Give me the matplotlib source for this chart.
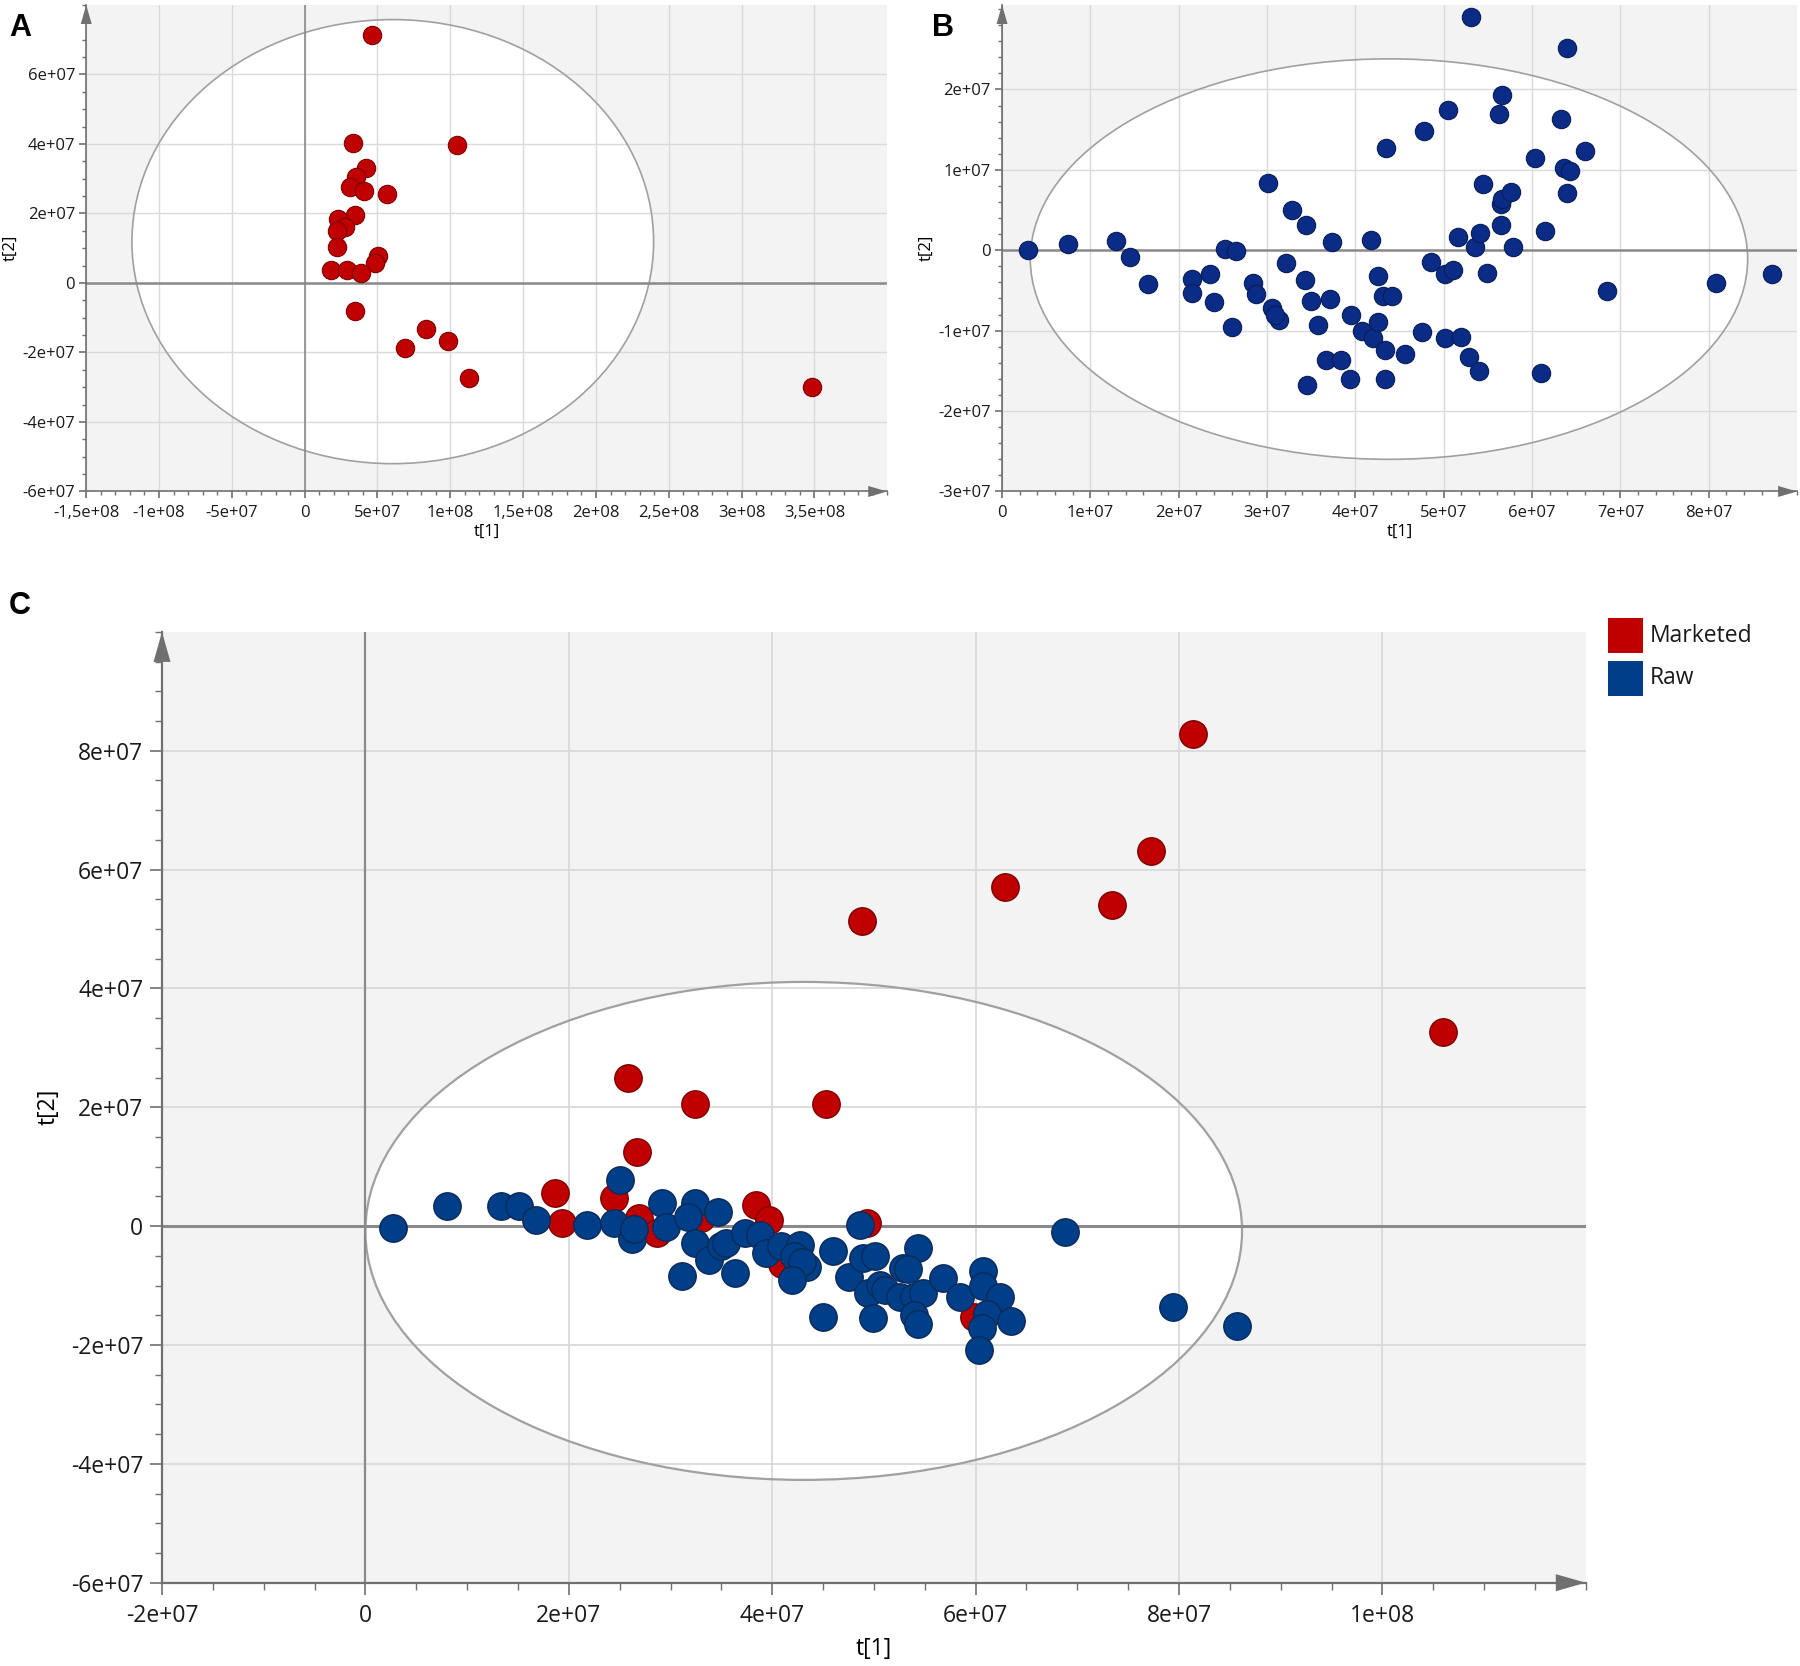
import matplotlib
matplotlib.use("Agg")
import matplotlib.pyplot as plt
import numpy as np
from matplotlib.patches import Ellipse, Polygon, Rectangle
from matplotlib.ticker import FixedLocator, FixedFormatter, MultipleLocator
import matplotlib.transforms as mtrans

plt.rcParams['font.family'] = ['Open Sans', 'DejaVu Sans']

E7 = 1e7

# panel A - marketed samples (units of 1e7)
a_x = [4.61, 3.35, 10.44, 4.22, 3.55, 3.11, 4.06, 5.67, 3.47, 2.29, 2.80, 2.25,
       2.25, 5.04, 4.81, 1.81, 2.92, 3.86, 3.47, 8.31, 6.86, 9.81, 11.31, 34.83]
a_y = [7.13, 4.02, 3.98, 3.31, 3.06, 2.77, 2.64, 2.55, 1.97, 1.85, 1.61, 1.49,
       1.04, 0.77, 0.58, 0.38, 0.38, 0.28, -0.80, -1.33, -1.87, -1.66, -2.74, -2.99]

# panel B - raw samples (units of 1e7)
b_x = [0.29, 0.75, 1.29, 1.45, 1.65, 2.15, 2.15, 2.35, 2.40, 2.52, 2.65, 2.60,
       2.84, 2.87, 3.01, 3.06, 3.13, 3.09, 3.21, 3.28, 3.44, 3.43, 3.50, 3.45,
       3.58, 3.71, 3.73, 3.67, 3.84, 3.94, 3.95, 4.07, 4.18, 4.20, 4.25, 4.26,
       4.31, 4.41, 4.33, 4.35, 4.33, 4.56, 4.75, 4.78, 4.85, 5.01, 5.11, 5.01,
       5.05, 5.16, 5.19, 5.29, 5.31, 5.35, 5.41, 5.44, 5.40, 5.49, 5.63, 5.66,
       5.65, 5.66, 5.65, 5.76, 5.78, 6.03, 6.10, 6.15, 6.33, 6.36, 6.43, 6.39,
       6.39, 6.60, 6.85, 8.08, 8.71]
b_y = [0.00, 0.08, 0.12, -0.09, -0.42, -0.36, -0.53, -0.30, -0.64, 0.02, -0.01, -0.95,
       -0.41, -0.55, 0.84, -0.72, -0.87, -0.80, -0.16, 0.50, 0.32, -0.37, -0.63, -1.68,
       -0.93, -0.61, 0.10, -1.36, -1.36, -1.60, -0.80, -1.00, 0.13, -1.09, -0.89, -0.32,
       -0.57, -0.57, -1.24, 1.27, -1.60, -1.29, -1.02, 1.48, -0.15, -0.29, -0.24, -1.09,
       1.74, 0.16, -1.08, -1.33, 2.90, 0.04, 0.22, 0.82, -1.50, -0.28, 1.70, 1.93,
       0.58, 0.64, 0.31, 0.73, 0.04, 1.15, -1.53, 0.24, 1.63, 1.02, 0.98, 0.71,
       2.52, 1.24, -0.51, -0.41, -0.30]

# panel C - combined model (units of 1e7)
groups = ['Marketed', 'Raw']
c_mkt_x = [8.14, 7.72, 6.29, 7.34, 4.88, 10.60, 2.58, 3.24, 4.53, 2.67, 1.86, 2.44,
           1.93, 3.84, 3.97, 2.69, 2.87, 4.93, 4.10, 5.98, 3.30]
c_mkt_y = [8.29, 6.31, 5.71, 5.40, 5.13, 3.26, 2.50, 2.06, 2.06, 1.24, 0.56, 0.47,
           0.06, 0.35, 0.10, 0.14, -0.12, 0.05, -0.64, -1.53, 0.14]
c_raw_x = [0.27, 0.80, 1.33, 1.51, 1.68, 2.18, 2.50, 2.44, 2.62, 2.64, 2.92, 2.96,
           3.11, 3.24, 3.17, 3.24, 3.38, 3.47, 3.50, 3.55, 3.63, 3.73, 3.88, 3.94,
           4.09, 4.27, 4.21, 4.34, 4.29, 4.19, 4.50, 4.60, 4.76, 4.86, 4.89, 5.01,
           4.94, 5.06, 5.11, 4.99, 5.43, 5.29, 5.34, 5.26, 5.39, 5.48, 5.39, 5.43,
           5.68, 5.85, 6.07, 6.07, 6.24, 6.11, 6.35, 6.06, 6.03, 6.88, 7.94, 8.57]
c_raw_y = [-0.03, 0.34, 0.34, 0.34, 0.10, 0.02, 0.78, 0.06, -0.22, -0.05, 0.39, -0.02,
           -0.84, 0.39, 0.16, -0.29, -0.57, 0.23, -0.34, -0.29, -0.79, -0.12, -0.15, -0.45,
           -0.34, -0.31, -0.51, -0.68, -0.60, -0.91, -1.53, -0.41, -0.85, 0.02, -0.54, -0.51,
           -1.13, -0.99, -1.07, -1.55, -0.36, -0.71, -0.72, -1.19, -1.19, -1.13, -1.50, -1.64,
           -0.88, -1.20, -0.75, -1.01, -1.20, -1.47, -1.59, -1.72, -2.08, -0.09, -1.36, -1.68]

# Hotelling ellipses: (cx, cy, half width, half height), units of 1e7
ell_a = (6.05, 1.19, 17.91, 6.39)
ell_b = (4.38, -0.11, 4.06, 2.49)
ell_c = (4.31, -0.08, 4.31, 4.19)

# tick labels
a_xticks = [-15, -10, -5, 0, 5, 10, 15, 20, 25, 30, 35]
a_xlabels = ['-1,5e+08', '-1e+08', '-5e+07', '0', '5e+07', '1e+08', '1,5e+08',
             '2e+08', '2,5e+08', '3e+08', '3,5e+08']
a_yticks = [-6, -4, -2, 0, 2, 4, 6]
a_ylabels = ['-6e+07', '-4e+07', '-2e+07', '0', '2e+07', '4e+07', '6e+07']
b_xticks = [0, 1, 2, 3, 4, 5, 6, 7, 8]
b_xlabels = ['0', '1e+07', '2e+07', '3e+07', '4e+07', '5e+07', '6e+07', '7e+07', '8e+07']
b_yticks = [-3, -2, -1, 0, 1, 2]
b_ylabels = ['-3e+07', '-2e+07', '-1e+07', '0', '1e+07', '2e+07']
c_xticks = [-2, 0, 2, 4, 6, 8, 10]
c_xlabels = ['-2e+07', '0', '2e+07', '4e+07', '6e+07', '8e+07', '1e+08']
c_yticks = [-6, -4, -2, 0, 2, 4, 6, 8]
c_ylabels = ['-6e+07', '-4e+07', '-2e+07', '0', '2e+07', '4e+07', '6e+07', '8e+07']

RED = '#c00000'
RED_EDGE = '#7d0000'
NAVY = '#0b2c86'
NAVY_EDGE = '#081d55'
BLUE = '#003f87'
BLUE_EDGE = '#0b2a58'
SPINE = '#707070'

fig = plt.figure(figsize=(18, 16.66), dpi=100)


def style_axes(ax, xlim, ylim, xt, xl, yt, yl, xminor, yminor, fs, big, ell):
    ax.set_facecolor('#f3f3f3')
    ax.set_xlim(xlim)
    ax.set_ylim(ylim)
    ax.xaxis.set_major_locator(FixedLocator(xt))
    ax.xaxis.set_major_formatter(FixedFormatter(xl))
    ax.yaxis.set_major_locator(FixedLocator(yt))
    ax.yaxis.set_major_formatter(FixedFormatter(yl))
    ax.xaxis.set_minor_locator(MultipleLocator(xminor))
    ax.yaxis.set_minor_locator(MultipleLocator(yminor))
    ax.set_axisbelow(True)
    ax.grid(True, which='major', color='#dadada', linewidth=1.3 if big else 1.0)
    for s in ['top', 'right']:
        ax.spines[s].set_visible(False)
    for s in ['left', 'bottom']:
        ax.spines[s].set_color(SPINE)
        ax.spines[s].set_linewidth(1.6 if big else 1.2)
    maj = 8.5 if big else 5
    mnr = 5 if big else 3
    ax.tick_params(which='major', length=maj, width=1.2, color=SPINE,
                   labelsize=fs, labelcolor='#1a1a1a', pad=5 if big else 3)
    ax.tick_params(axis='x', which='major', pad=7 if big else 5)
    ax.tick_params(which='minor', length=mnr, width=1.0, color=SPINE)
    # ellipse: white fill under grid, grey outline above
    cx, cy, hw, hh = ell
    ax.add_patch(Ellipse((cx, cy), 2 * hw, 2 * hh, facecolor='white',
                         edgecolor='none', zorder=0.2))
    ax.add_patch(Ellipse((cx, cy), 2 * hw, 2 * hh, facecolor='none',
                         edgecolor='#a0a0a0', linewidth=1.6 if big else 1.2, zorder=1.5))
    ax.axhline(0, color='#8a8a8a', linewidth=2.2 if big else 1.8, zorder=1.6)
    ax.axvline(0, color='#8a8a8a', linewidth=1.6 if big else 1.2, zorder=1.6)
    # arrow heads at the ends of the axes
    w = 0.085 if big else 0.055
    h = 0.30 if big else 0.19
    tup = fig.dpi_scale_trans + mtrans.ScaledTranslation(0, 1, ax.transAxes)
    ax.add_patch(Polygon([(-w, -h), (w, -h), (0, 0)], closed=True, transform=tup,
                         facecolor=SPINE, edgecolor='none', clip_on=False, zorder=5))
    trt = fig.dpi_scale_trans + mtrans.ScaledTranslation(1, 0, ax.transAxes)
    ax.add_patch(Polygon([(-h, -w), (-h, w), (0, 0)], closed=True, transform=trt,
                         facecolor=SPINE, edgecolor='none', clip_on=False, zorder=5))


# ---- panel A
axA = fig.add_axes([0.0479, 0.7050, 0.4450, 0.2920])
style_axes(axA, (-15, 40), (-6, 8), a_xticks, a_xlabels, a_yticks, a_ylabels,
           1, 0.5, 12, False, ell_a)
axA.scatter(a_x, a_y, s=175, color=RED, edgecolors=RED_EDGE, linewidths=0.8, zorder=3)
axA.set_xlabel('t[1]', fontsize=12, labelpad=2)
axA.set_ylabel('t[2]', fontsize=12, labelpad=3)

# ---- panel B
axB = fig.add_axes([0.5567, 0.7050, 0.4417, 0.2920])
style_axes(axB, (0, 9), (-3, 3.05), b_xticks, b_xlabels, b_yticks, b_ylabels,
           0.2, 0.2, 12, False, ell_b)
axB.scatter(b_x, b_y, s=175, color=NAVY, edgecolors=NAVY_EDGE, linewidths=0.8, zorder=3)
axB.set_xlabel('t[1]', fontsize=12, labelpad=2)
axB.set_ylabel('t[2]', fontsize=12, labelpad=3)

# ---- panel C
axC = fig.add_axes([0.0900, 0.0500, 0.7910, 0.5707])
style_axes(axC, (-2, 12), (-6, 10), c_xticks, c_xlabels, c_yticks, c_ylabels,
           0.5, 0.5, 16.5, True, ell_c)
axC.scatter(c_mkt_x, c_mkt_y, s=390, color=RED, edgecolors=RED_EDGE, linewidths=1.0,
            zorder=3, label=groups[0])
axC.scatter(c_raw_x, c_raw_y, s=390, color=BLUE, edgecolors=BLUE_EDGE, linewidths=1.0,
            zorder=4, label=groups[1])
axC.set_xlabel('t[1]', fontsize=16.5, labelpad=6)
axC.set_ylabel('t[2]', fontsize=16.5, labelpad=7)

# legend drawn by hand at the top right
for i, (name, col) in enumerate(zip(groups, [RED, BLUE])):
    y0 = 0.608 - i * 0.0255
    fig.patches.append(Rectangle((0.8935, y0), 0.0192, 0.0208, transform=fig.transFigure,
                                 facecolor=col, edgecolor='none'))
    fig.text(0.9165, y0 + 0.0104, name, fontsize=16.5, va='center', ha='left',
             color='#1a1a1a')

# panel letters
for lab, x, y in [('A', 0.005, 0.992), ('B', 0.518, 0.992), ('C', 0.005, 0.645)]:
    fig.text(x, y, lab, fontsize=22, fontweight='bold', family='Liberation Sans',
             va='top', ha='left')

fig.savefig('out.png', dpi=100, facecolor='white')
